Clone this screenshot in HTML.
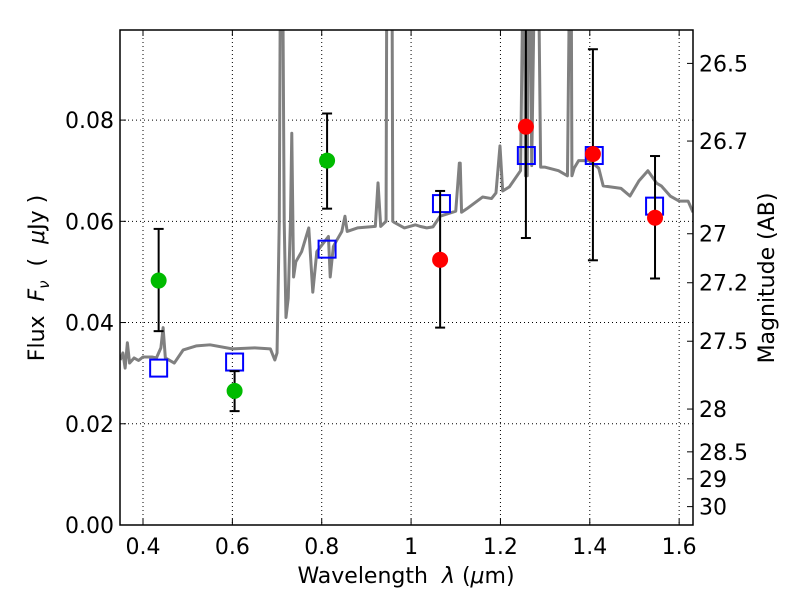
<!DOCTYPE html>
<html><head><meta charset="utf-8"><style>
body{margin:0;background:#fff}
svg text{font-family:"DejaVu Sans","Liberation Sans",sans-serif;fill:#000}
</style></head><body>
<svg id="c" width="800" height="600" xmlns="http://www.w3.org/2000/svg"></svg>
<script>
const specW=[0.349,0.355,0.36,0.365,0.37,0.38,0.39,0.40,0.42,0.43,0.44,0.445,0.45,0.47,0.49,0.52,0.55,0.60,0.65,0.685,0.695,0.70,0.705,0.708,0.712,0.716,0.72,0.725,0.73,0.733,0.737,0.742,0.755,0.771,0.78,0.789,0.815,0.819,0.826,0.832,0.845,0.852,0.857,0.88,0.92,0.926,0.932,0.944,0.946,0.957,0.959,0.962,0.985,1.01,1.02,1.035,1.049,1.065,1.10,1.108,1.11,1.113,1.125,1.16,1.18,1.19,1.199,1.205,1.22,1.245,1.252,1.253,1.256,1.26,1.264,1.266,1.27,1.278,1.284,1.29,1.30,1.33,1.35,1.356,1.358,1.36,1.365,1.375,1.40,1.42,1.43,1.47,1.49,1.51,1.53,1.55,1.56,1.58,1.60,1.62,1.631];
const specF=[0.0326,0.034,0.031,0.036,0.032,0.033,0.0325,0.0332,0.0332,0.033,0.035,0.039,0.033,0.032,0.0346,0.0354,0.0356,0.0348,0.035,0.0348,0.0326,0.034,0.06,0.12,0.12,0.06,0.041,0.0448,0.06,0.0774,0.049,0.052,0.054,0.0587,0.046,0.054,0.057,0.049,0.055,0.056,0.058,0.061,0.058,0.0587,0.059,0.0676,0.059,0.06,0.12,0.12,0.06,0.0598,0.0587,0.0593,0.059,0.0587,0.0589,0.061,0.062,0.0715,0.0715,0.0618,0.0625,0.0648,0.0645,0.0656,0.0749,0.066,0.0668,0.070,0.12,0.12,0.069,0.069,0.12,0.12,0.071,0.12,0.12,0.0707,0.0707,0.070,0.069,0.12,0.12,0.069,0.0705,0.072,0.072,0.0705,0.067,0.0665,0.065,0.068,0.070,0.0675,0.067,0.065,0.064,0.064,0.0618];
const modelW=[0.435,0.605,0.812,1.068,1.258,1.41,1.545];
const modelF=[0.031,0.0322,0.0545,0.0635,0.073,0.073,0.063];
const greenW=[0.435,0.605,0.812];
const greenF=[0.0483,0.0265,0.072];
const greenLo=[0.0383,0.0225,0.0625];
const greenHi=[0.0585,0.0304,0.0813];
const redW=[1.065,1.257,1.407,1.546];
const redF=[0.0524,0.0787,0.0733,0.0607];
const redLo=[0.039,0.0567,0.0523,0.0487];
const redHi=[0.066,0.12,0.094,0.0729];
const xTicks=[0.4,0.6,0.8,1.0,1.2,1.4,1.6];
const xLabels=["0.4","0.6","0.8","1","1.2","1.4","1.6"];
const yTicks=[0,0.02,0.04,0.06,0.08];
const yLabels=["0.00","0.02","0.04","0.06","0.08"];
const magTicks=[26.5,26.7,27,27.2,27.5,28,28.5,29,30];
const magLabels=["26.5","26.7","27","27.2","27.5","28","28.5","29","30"];

const L=120,R=693,T=30,B=525,x0=0.3485,x1=1.631,y0=0,y1=0.0978;
const X=v=>L+(v-x0)/(x1-x0)*(R-L);
const Y=v=>B-(v-y0)/(y1-y0)*(B-T);
const svg=document.getElementById('c');
const NS='http://www.w3.org/2000/svg';
function mk(tag,a,parent){const e=document.createElementNS(NS,tag);for(const k in a)e.setAttribute(k,a[k]);(parent||svg).appendChild(e);return e;}
const defs=mk('defs',{});const cp=mk('clipPath',{id:'cp'},defs);mk('rect',{x:L,y:T,width:R-L,height:B-T},cp);

xTicks.forEach(v=>{const g=mk('line',{x1:X(v),x2:X(v),y1:T,y2:B,stroke:'#000','stroke-width':1,'stroke-dasharray':'1,3'});

});
yTicks.forEach(v=>{const g=mk('line',{x1:L,x2:R,y1:Y(v),y2:Y(v),stroke:'#000','stroke-width':1,'stroke-dasharray':'1,3'});

});

const gp=mk('g',{'clip-path':'url(#cp)'});
const sp=mk('polyline',{points:specW.map((w,i)=>X(w)+','+Y(specF[i])).join(' '),fill:'none',stroke:'#808080','stroke-width':3,'stroke-linejoin':'round'},gp);



function errbar(w,lo,hi,name){
  const g=mk('g',{stroke:'#000','stroke-width':2},gp);
  
  
  mk('line',{x1:X(w),x2:X(w),y1:Y(lo),y2:Y(hi)},g);
  mk('line',{x1:X(w)-5,x2:X(w)+5,y1:Y(lo),y2:Y(lo)},g);
  mk('line',{x1:X(w)-5,x2:X(w)+5,y1:Y(hi),y2:Y(hi)},g);
}
modelW.forEach((w,i)=>{const r=mk('rect',{x:X(w)-8.5,y:Y(modelF[i])-8.5,width:17,height:17,fill:'none',stroke:'#0000ff','stroke-width':2},gp);

});
greenW.forEach((w,i)=>{errbar(w,greenLo[i],greenHi[i],'green-error-bar');
const c=mk('circle',{cx:X(w),cy:Y(greenF[i]),r:8,fill:'#00bb00'},gp);

});
redW.forEach((w,i)=>{errbar(w,redLo[i],redHi[i],'red-error-bar');
const c=mk('circle',{cx:X(w),cy:Y(redF[i]),r:8,fill:'#ff0000'},gp);

});

const fr=mk('rect',{x:L,y:T,width:R-L,height:B-T,fill:'none',stroke:'#000','stroke-width':1.5});



xTicks.forEach((v,i)=>{mk('line',{x1:X(v),x2:X(v),y1:B,y2:B-6,stroke:'#000'});mk('line',{x1:X(v),x2:X(v),y1:T,y2:T+6,stroke:'#000'});
const t=mk('text',{x:X(v),y:B+29,'text-anchor':'middle','font-size':22});t.textContent=xLabels[i];

});
yTicks.forEach((v,i)=>{mk('line',{x1:L,x2:L+6,y1:Y(v),y2:Y(v),stroke:'#000'});
const t=mk('text',{x:L-6,y:Y(v)+8,'text-anchor':'end','font-size':22});t.textContent=yLabels[i];

});
magTicks.forEach((m,i)=>{const f=Math.pow(10,(23.9-m)/2.5);const y=Y(f);
mk('line',{x1:R,x2:R-6,y1:y,y2:y,stroke:'#000'});
const t=mk('text',{x:R+6,y:y+8,'font-size':22});t.textContent=magLabels[i];

});
</script>
<svg width="800" height="600" style="position:absolute;left:0;top:0" xmlns="http://www.w3.org/2000/svg">
<text x="406" y="583" text-anchor="middle" font-size="22">Wavelength&#160;&#160;<tspan font-style="italic">λ</tspan>&#160;(<tspan font-style="italic">μ</tspan>m)</text>
<text transform="translate(44,278) rotate(-90)" text-anchor="middle" font-size="22">Flux&#160;&#160;<tspan font-style="italic">F</tspan><tspan font-style="italic" font-size="15" dy="5">ν</tspan><tspan dy="-5">&#160;&#160;(&#160;&#160;</tspan><tspan font-style="italic">μ</tspan>Jy&#160;)</text>
<text transform="translate(774,278) rotate(-90)" text-anchor="middle" font-size="22">Magnitude (AB)</text>
</svg>
</body></html>
